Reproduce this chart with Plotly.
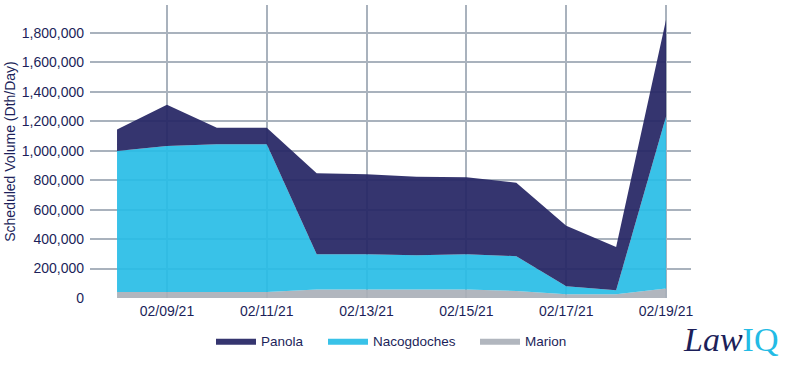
import plotly.graph_objects as go

dates = ["2021-02-08", "2021-02-09", "2021-02-10", "2021-02-11", "2021-02-12", "2021-02-13",
         "2021-02-14", "2021-02-15", "2021-02-16", "2021-02-17", "2021-02-18", "2021-02-19"]
marion = [41000, 41000, 41000, 41000, 57000, 57000, 57000, 57000, 48000, 25000, 25000, 64000]
nacogdoches = [957000, 992000, 1003000, 1003000, 240000, 240000, 234000, 240000, 236000, 55000, 27000, 1168000]
panola = [147000, 279000, 113000, 113000, 550000, 543000, 533000, 523000, 499000, 410000, 295000, 658000]

series = [
    ("Marion", marion, "rgba(170,176,185,0.92)", "legend3"),
    ("Nacogdoches", nacogdoches, "rgba(40,189,230,0.92)", "legend2"),
    ("Panola", panola, "rgba(38,38,100,0.93)", "legend"),
]

fig = go.Figure()
for name, vals, col, leg in series:
    fig.add_trace(go.Scatter(
        x=dates, y=vals, name=name, mode="lines", stackgroup="one",
        line=dict(width=0, color=col), fillcolor=col, legend=leg,
    ))

navy = "#1c1f5a"


def leg_style(xpix):
    return dict(orientation="h", xref="container", yref="container",
                x=xpix / 800, xanchor="left", y=0.093, yanchor="middle",
                font=dict(size=13.5, color=navy), itemwidth=40,
                bgcolor="rgba(0,0,0,0)")


fig.update_layout(
    width=800, height=376,
    margin=dict(l=90, r=109, t=5, b=78, autoexpand=False),
    plot_bgcolor="white", paper_bgcolor="white",
    font=dict(family="Liberation Sans, Arial", size=14, color=navy),
    showlegend=True,
    legend=leg_style(211),
    legend2=leg_style(323),
    legend3=leg_style(475),
    xaxis=dict(
        type="date", range=["2021-02-07 11:00", "2021-02-19 12:00"],
        tick0="2021-02-09", dtick=2 * 86400000, tickformat="%m/%d/%y",
        showgrid=True, gridcolor="#a9b2bd", gridwidth=1.5,
        showline=False, zeroline=False, ticks="", tickfont=dict(size=14, color=navy),
        automargin=False, ticklabelstandoff=3,
    ),
    yaxis=dict(
        range=[0, 1990000], dtick=200000, tickformat=",d",
        showgrid=True, gridcolor="#a9b2bd", gridwidth=1.5,
        zeroline=False, showline=False, ticks="",
        title=dict(text="Scheduled Volume (Dth/Day)", font=dict(size=14, color=navy), standoff=2),
        tickfont=dict(size=14, color=navy), automargin=False, ticklabelstandoff=5,
    ),
)

fig.add_annotation(
    xref="paper", yref="paper", x=1.066, y=-0.14, xanchor="center", yanchor="middle",
    text="<i><span style='color:#1c1f5a'>Law</span></i><span style='color:#23bbe5'>IQ</span>",
    showarrow=False, font=dict(family="Liberation Serif, Times New Roman", size=34),
)

fig.write_html("out.html", config={"displayModeBar": False},
               post_script="document.body.style.margin='0';")
